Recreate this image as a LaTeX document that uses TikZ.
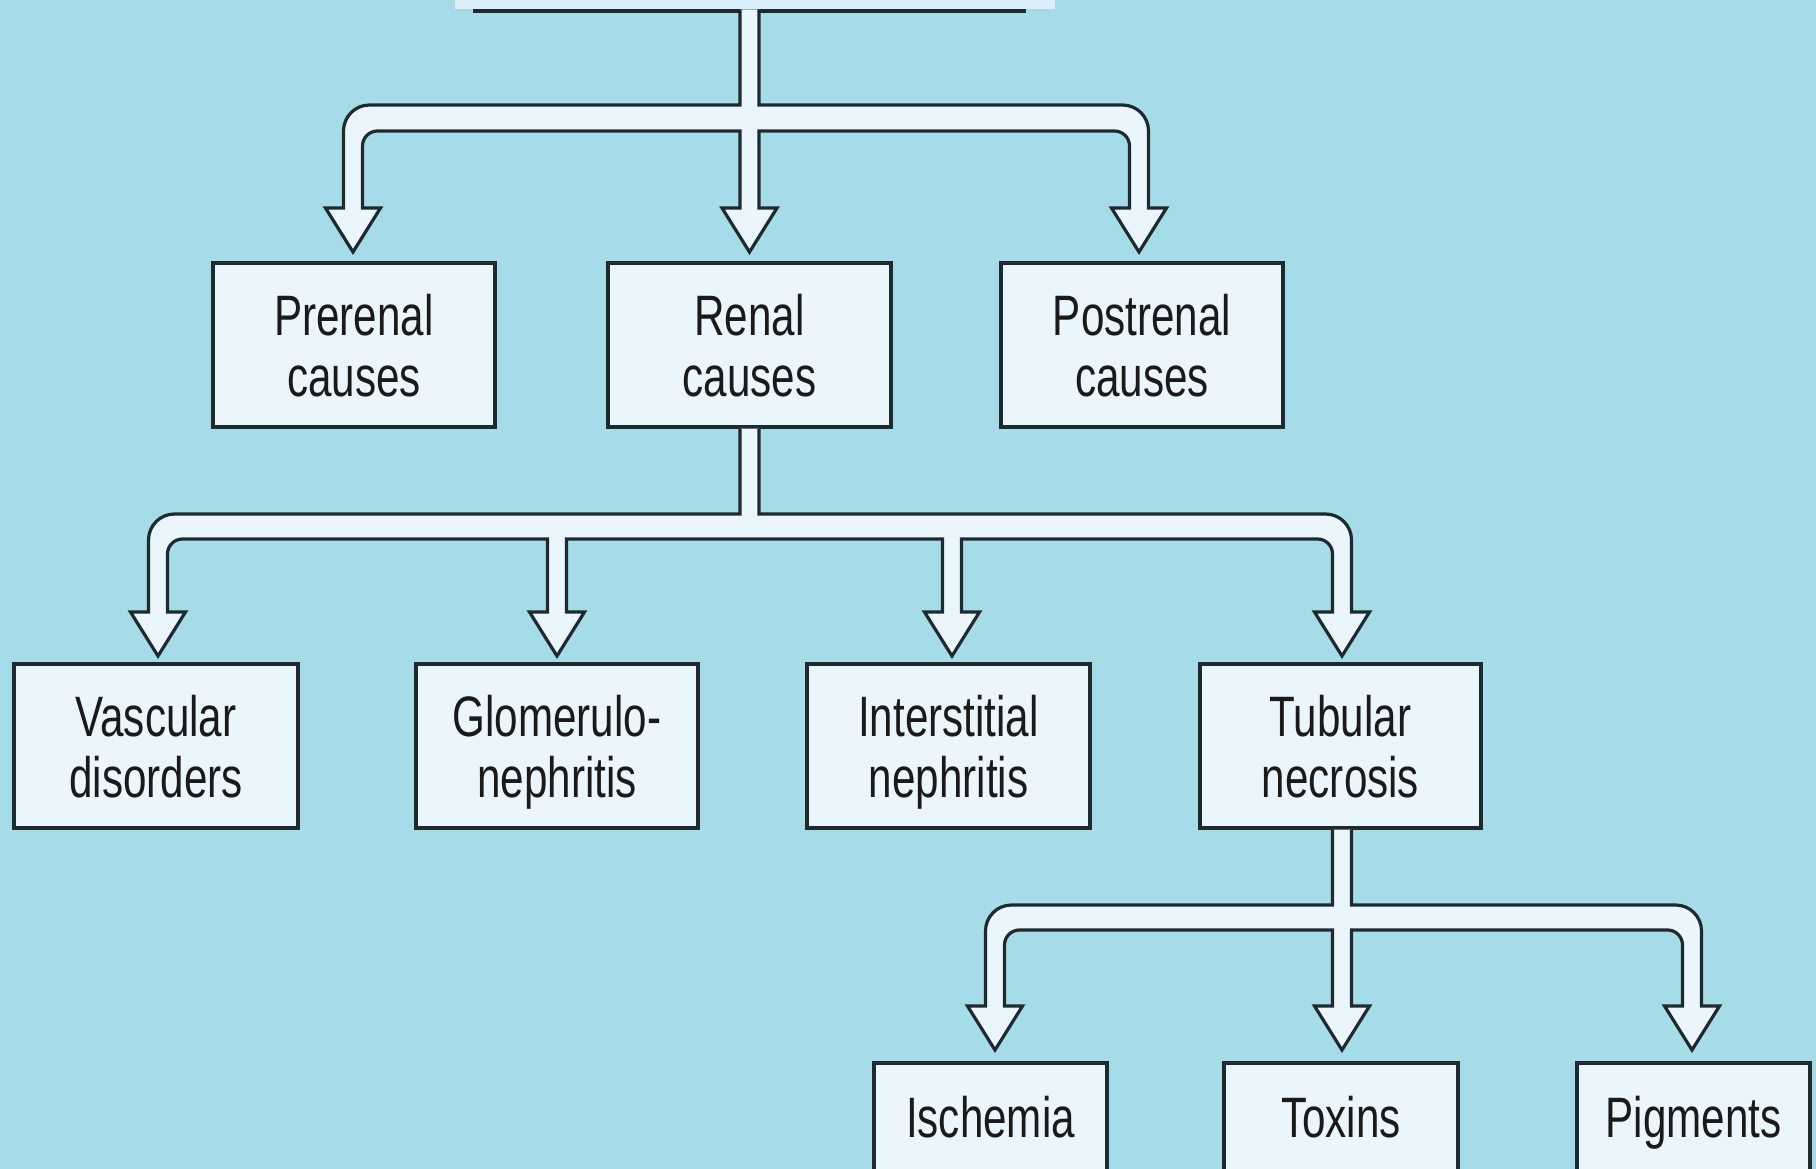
\documentclass[tikz,border=0pt]{standalone}
\usepackage{fontspec}
\setmainfont[FakeStretch=0.74]{Liberation Sans}
\definecolor{bgc}{HTML}{A6DCE8}
\definecolor{boxc}{HTML}{EAF6FB}
\definecolor{linec}{HTML}{1E2A30}
\definecolor{topc}{HTML}{D9EEF9}
\definecolor{txtc}{HTML}{1A1A1A}
\begin{document}
\begin{tikzpicture}[x=1pt,y=-1pt,
  box/.style={draw=linec,fill=boxc,line width=3.2pt,minimum width=282pt,minimum height=164pt,
    inner sep=0pt,align=center,text=txtc,text depth=0pt,font=\fontsize{57}{61}\selectfont},
  sbox/.style={box,minimum width=233pt,minimum height=108pt,text height=41pt,text depth=0pt},
  conn/.style={draw=linec,fill=boxc,line width=3.2pt,line join=miter},
  ahd/.style 2 args={insert path={ -- ({#1-9.5},#2) -- ({#1-27.5},#2) -- (#1,{#2+44}) -- ({#1+27.5},#2) -- ({#1+9.5},#2)}}
]
\useasboundingbox (0,0) rectangle (1816,1169);
\clip (0,0) rectangle (1816,1169);
\fill[bgc] (0,0) rectangle (1816,1169);
% top box remnant
\fill[topc] (455,-5) rectangle (1055,9);
\draw[linec,line width=3.2pt] (473,11) coordinate (topL) -- (1026,11) coordinate (topR);
% level 1 boxes
\node[box] (pre)  at (354,345)   {Prerenal\\causes};
\node[box,minimum width=283pt] (ren)  at (749.5,345) {Renal\\causes};
\node[box] (post) at (1142,345)  {Postrenal\\causes};
% level 2 boxes
\node[box,minimum width=284pt] (vas) at (156,746)    {Vascular\\disorders};
\node[box] (glo) at (557,746)    {Glomerulo-\\nephritis};
\node[box,minimum width=283pt] (int) at (948.5,746)  {Interstitial\\nephritis};
\node[box,minimum width=281pt] (tub) at (1340.5,746) {Tubular\\necrosis};
% level 3 boxes
\node[sbox] (isch) at (990.5,1117) {Ischemia};
\node[sbox,minimum width=234pt] (tox)  at (1341,1117)  {Toxins};
\node[sbox] (pig)  at (1693.5,1117) {Pigments};
% connector level 1 (from top box to level-1 boxes)
\path[conn] (740,9.5) -- (740,105) -- (369.5,105) .. controls (355.1,105) and (343.5,116.6) .. (343.5,131)
  [ahd={353}{208}] -- (362.5,146) .. controls (362.5,137.7) and (369.2,131) .. (377.5,131) -- (740,131)
  [ahd={749.5}{208}] -- (759,131) -- (1114.5,131) .. controls (1122.8,131) and (1129.5,137.7) .. (1129.5,146)
  [ahd={1139}{208}] -- (1148.5,131) .. controls (1148.5,116.6) and (1136.9,105) .. (1122.5,105) -- (759,105) -- (759,9.5);
% connector level 2 (from ren)
\path[conn] (740,0 |- ren.south) -- (740,514) -- (174.5,514) .. controls (160.1,514) and (148.5,525.6) .. (148.5,540)
  [ahd={158}{612}] -- (167.5,554) .. controls (167.5,545.7) and (174.2,539) .. (182.5,539) -- (547.5,539)
  [ahd={557}{612}] -- (566.5,539) -- (942.5,539)
  [ahd={952}{612}] -- (961.5,539) -- (1317.5,539) .. controls (1325.8,539) and (1332.5,545.7) .. (1332.5,554)
  [ahd={1342}{612}] -- (1351.5,540) .. controls (1351.5,525.6) and (1339.9,514) .. (1325.5,514) -- (759,514) -- (759,0 |- ren.south);
% connector level 3 (from tub)
\path[conn] (1332.5,0 |- tub.south) -- (1332.5,905) -- (1011.5,905) .. controls (997.1,905) and (985.5,916.6) .. (985.5,931)
  [ahd={995}{1006}] -- (1004.5,945) .. controls (1004.5,936.7) and (1011.2,930) .. (1019.5,930) -- (1332.5,930)
  [ahd={1342}{1006}] -- (1351.5,930) -- (1667.5,930) .. controls (1675.8,930) and (1682.5,936.7) .. (1682.5,945)
  [ahd={1692}{1006}] -- (1701.5,931) .. controls (1701.5,916.6) and (1689.9,905) .. (1675.5,905) -- (1351.5,905) -- (1351.5,0 |- tub.south);
\end{tikzpicture}
\end{document}
